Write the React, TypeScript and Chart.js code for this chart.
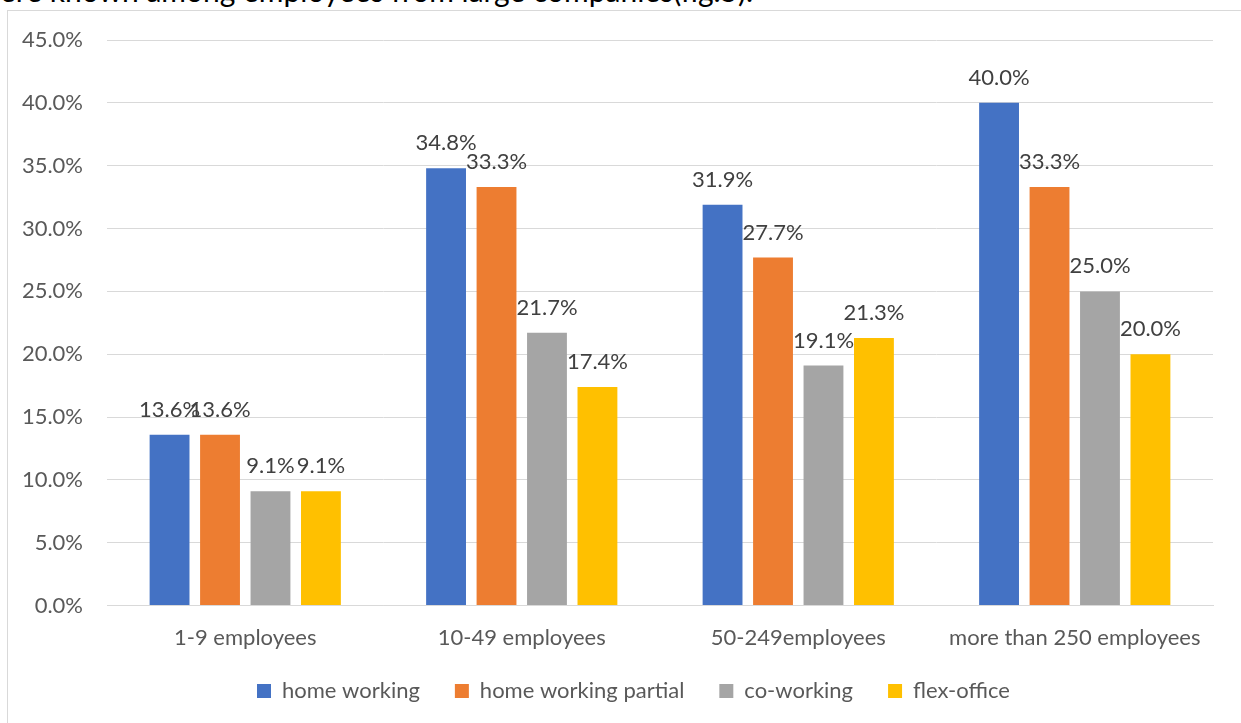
import React, { useEffect, useRef } from "react";
import { Chart, registerables } from "chart.js";

Chart.register(...registerables);

const categories = ["1-9 employees", "10-49 employees", "50-249employees", "more than 250 employees"];
const seriesNames = ["home working", "home working partial", "co-working", "flex-office"];
const homeWorking = [13.6, 34.8, 31.9, 40.0];
const homeWorkingPartial = [13.6, 33.3, 27.7, 33.3];
const coWorking = [9.1, 21.7, 19.1, 25.0];
const flexOffice = [9.1, 17.4, 21.3, 20.0];
const yTickValues = [0, 5, 10, 15, 20, 25, 30, 35, 40, 45];

const seriesColors = ["#4472C4", "#ED7D31", "#A5A5A5", "#FFC000"];
const FONT = "Lato, 'Open Sans', sans-serif";
const FONT_SIZE = 22;

const dataLabelPlugin = {
  id: "dataLabels",
  afterDatasetsDraw(chart: any) {
    const ctx = chart.ctx;
    ctx.save();
    ctx.font = `${FONT_SIZE}px ${FONT}`;
    ctx.fillStyle = "#404040";
    ctx.textAlign = "center";
    ctx.textBaseline = "middle";
    chart.data.datasets.forEach((ds: any, di: number) => {
      const meta = chart.getDatasetMeta(di);
      meta.data.forEach((el: any, i: number) => {
        const v = ds.data[i] as number;
        ctx.fillText(v.toFixed(1) + "%", el.x, el.y - 25);
      });
    });
    ctx.restore();
  },
};

const legendShiftPlugin = {
  id: "legendShift",
  afterLayout(chart: any) {
    const l = chart.legend;
    if (!l) return;
    const pad = l.options.labels.padding;
    const dx = 249 - (l.left + pad);
    const dy = 680 - (l.top + pad + FONT_SIZE / 2);
    l.left += dx;
    l.right += dx;
    l.top += dy;
    l.bottom += dy;
  },
};

function App() {
  const canvasRef = useRef<HTMLCanvasElement | null>(null);

  useEffect(() => {
    if (!canvasRef.current) return;
    const seriesValues = [homeWorking, homeWorkingPartial, coWorking, flexOffice];
    const chart = new Chart(canvasRef.current, {
      type: "bar",
      data: {
        labels: categories,
        datasets: seriesNames.map((name, i) => ({
          label: name,
          data: seriesValues[i],
          backgroundColor: seriesColors[i],
          borderWidth: 0,
          categoryPercentage: 0.73,
          barPercentage: 0.79,
        })),
      },
      options: {
        animation: false,
        responsive: true,
        maintainAspectRatio: false,
        layout: { autoPadding: false, padding: { top: 29, right: 28, left: 0, bottom: 5 } },
        plugins: {
          legend: {
            position: "bottom",
            align: "start",
            labels: {
              boxWidth: 14,
              boxHeight: 14,
              padding: 35,
              color: "#595959",
              font: { family: FONT, size: FONT_SIZE },
            },
          },
          tooltip: { enabled: false },
        },
        scales: {
          x: {
            afterFit: (axis: any) => {
              axis.height = 45.4;
              axis.paddingLeft = 0;
              axis.paddingRight = 0;
            },
            grid: { display: false, drawTicks: false },
            border: { display: true, color: "#D9D9D9", width: 1 },
            ticks: {
              color: "#595959",
              font: { family: FONT, size: FONT_SIZE },
              padding: 19,
              maxRotation: 0,
            },
          },
          y: {
            min: 0,
            max: 45,
            afterFit: (axis: any) => {
              axis.width = 99;
              axis.paddingTop = 0;
              axis.paddingBottom = 0;
            },
            afterBuildTicks: (axis: any) => {
              axis.ticks = yTickValues.map((v) => ({ value: v }));
            },
            grid: { color: "#D9D9D9", lineWidth: 1, drawTicks: false },
            border: { display: false },
            ticks: {
              color: "#595959",
              font: { family: FONT, size: FONT_SIZE },
              padding: 24,
              callback: (v: any) => Number(v).toFixed(1) + "%",
            },
          },
        },
      },
      plugins: [dataLabelPlugin, legendShiftPlugin],
    });
    return () => chart.destroy();
  }, []);

  return (
    <div
      style={{
        position: "fixed",
        left: 0,
        top: 0,
        width: 1241,
        height: 723,
        overflow: "hidden",
        background: "#ffffff",
      }}
    >
      <div
        style={{
          position: "absolute",
          left: 0,
          top: -25,
          fontFamily: FONT,
          fontSize: 30,
          lineHeight: "30px",
          color: "#000000",
          whiteSpace: "nowrap",
        }}
      >
        ere known among employees from large companies(fig.5).
      </div>
      <div
        style={{
          position: "absolute",
          left: 7,
          top: 10,
          width: 1400,
          height: 900,
          borderLeft: "1px solid #D9D9D9",
          borderTop: "1px solid #D9D9D9",
          boxSizing: "border-box",
        }}
      />
      <div style={{ position: "absolute", left: 8, top: 11, width: 1233, height: 712 }}>
        <canvas ref={canvasRef} />
      </div>
    </div>
  );
}

export default App;
